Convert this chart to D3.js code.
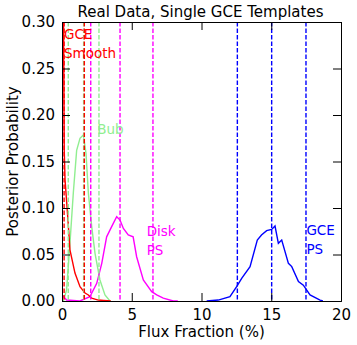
<!DOCTYPE html>
<html>
<head>
<meta charset="utf-8">
<script src="https://cdn.jsdelivr.net/npm/d3@7"></script>
<style>
  body { margin: 0; background: #fff; }
  text { font-family: "DejaVu Sans", sans-serif; }
</style>
</head>
<body>
<div id="chart"></div>
<script>
// posterior curves, [flux %, probability]
var gceSmooth = [[0.0, 0.6], [0.16, 0.162], [0.22, 0.130], [0.41, 0.091], [0.57, 0.055], [0.93, 0.030],
  [1.29, 0.0154], [1.65, 0.0086], [1.89, 0.0065], [2.13, 0.003], [2.6, 0.001], [3.0, 0.0005], [3.5, 0]];
var bub = [[0.1, 0], [0.33, 0.012], [0.57, 0.062], [0.81, 0.116], [1.05, 0.162], [1.29, 0.175],
  [1.53, 0.1785], [1.72, 0.159], [1.89, 0.116], [2.13, 0.080], [2.37, 0.051], [2.72, 0.0226],
  [3.08, 0.0065], [3.44, 0]];
var diskPS = [[0.0, 0.0065], [0.33, 0.001], [1.29, 0], [2.0, 0.0046], [2.49, 0.019], [2.85, 0.0405],
  [3.2, 0.069], [3.56, 0.080], [3.92, 0.0906], [4.16, 0.087], [4.4, 0.078], [4.75, 0.071],
  [5.1, 0.069], [5.35, 0.0476], [5.83, 0.0226], [6.43, 0.010], [6.79, 0.0065], [7.26, 0.003],
  [7.98, 0], [8.3, 0]];
var gcePS = [[10.37, 0], [11.2, 0.001], [12.04, 0.0046], [12.52, 0.0154], [12.88, 0.0244],
  [13.48, 0.037], [14.0, 0.0656], [14.3, 0.071], [14.67, 0.0756], [15.03, 0.077], [15.27, 0.0806],
  [15.51, 0.062], [15.75, 0.0656], [16.23, 0.0405], [16.47, 0.037], [16.95, 0.021], [17.3, 0.017],
  [17.78, 0.0065], [18.5, 0.001], [18.7, 0]];

// 16/50/84 percentile markers
var bubLines = [0.45, 1.55, 2.65];
var smoothLines = [0.02, 0.15, 1.6];
var diskLines = [2.06, 4.16, 6.52];
var psLines = [12.57, 15.03, 17.49];

var xTicks = [0, 5, 10, 15, 20];
var yTicks = [0, 0.05, 0.10, 0.15, 0.20, 0.25, 0.30];

var series = [
  { name: 'Bub', data: bub, lines: bubLines, color: '#90ee90', label: ['Bub'], at: [2.52, 0.1795] },
  { name: 'Disk PS', data: diskPS, lines: diskLines, color: '#ff00ff', label: ['Disk', 'PS'], at: [6.07, 0.0695] },
  { name: 'GCE PS', data: gcePS, lines: psLines, color: '#0000ff', label: ['GCE', 'PS'], at: [17.52, 0.0705] },
  { name: 'GCE Smooth', data: gceSmooth, lines: smoothLines, color: '#ff0000', label: ['GCE', 'Smooth'], at: [0.14, 0.2815] }
];

var W = 357, H = 345;
var m = { left: 62, right: 16, top: 22, bottom: 44 };
var w = W - m.left - m.right, h = H - m.top - m.bottom;

var svg = d3.select('#chart').append('svg')
  .attr('width', W).attr('height', H);

var x = d3.scaleLinear().domain([0, 20]).range([0, w]);
var y = d3.scaleLinear().domain([0, 0.3]).range([h, 0]);

var g = svg.append('g').attr('transform', 'translate(' + m.left + ',' + m.top + ')');

g.append('clipPath').attr('id', 'clip')
  .append('rect').attr('width', w).attr('height', h);

var plot = g.append('g').attr('clip-path', 'url(#clip)');

var line = d3.line()
  .x(function(d) { return x(d[0]); })
  .y(function(d) { return y(d[1]); });

series.forEach(function(s) {
  plot.append('path')
    .attr('d', line(s.data))
    .attr('fill', 'none')
    .attr('stroke', s.color)
    .attr('stroke-width', 1.4);
});

series.forEach(function(s) {
  plot.selectAll(null)
    .data(s.lines)
    .enter()
    .append('line')
    .attr('x1', function(d) { return x(d); })
    .attr('x2', function(d) { return x(d); })
    .attr('y1', 0).attr('y2', h)
    .attr('stroke', s.color)
    .attr('stroke-width', 1.4)
    .attr('stroke-dasharray', '4.5,2');
});

series.forEach(function(s) {
  var t = g.append('text')
    .attr('x', x(s.at[0]))
    .attr('y', y(s.at[1]))
    .attr('fill', s.color)
    .style('font-size', '13.5px');
  s.label.forEach(function(l, i) {
    t.append('tspan').attr('x', x(s.at[0])).attr('dy', i ? 19 : 0).text(l);
  });
});

// axes, matplotlib classic: inward ticks on all sides
var tk = 8;
g.append('g').attr('transform', 'translate(0,' + h + ')')
  .call(d3.axisBottom(x).tickValues(xTicks).tickSize(-tk).tickPadding(8).tickFormat(d3.format('d')));
g.append('g')
  .call(d3.axisTop(x).tickValues(xTicks).tickSize(-tk).tickFormat(''));
g.append('g')
  .call(d3.axisLeft(y).tickValues(yTicks).tickSize(-tk).tickPadding(7).tickFormat(d3.format('.2f')));
g.append('g').attr('transform', 'translate(' + w + ',0)')
  .call(d3.axisRight(y).tickValues(yTicks).tickSize(-tk).tickFormat(''));

g.selectAll('.domain').attr('stroke', '#000');
g.selectAll('.tick line').attr('stroke', '#000');
g.selectAll('.tick text').style('font-size', '15px').attr('fill', '#000')
  .style('font-family', '"DejaVu Sans", sans-serif');

svg.append('text')
  .attr('x', m.left + w / 2 - 1).attr('y', 17)
  .attr('text-anchor', 'middle')
  .style('font-size', '15px')
  .text('Real Data, Single GCE Templates');

svg.append('text')
  .attr('x', m.left + w / 2).attr('y', 337)
  .attr('text-anchor', 'middle')
  .style('font-size', '15px')
  .text('Flux Fraction (%)');

svg.append('text')
  .attr('transform', 'translate(18,' + (m.top + h / 2) + ') rotate(-90)')
  .attr('text-anchor', 'middle')
  .style('font-size', '15px')
  .text('Posterior Probability');
</script>
</body>
</html>
